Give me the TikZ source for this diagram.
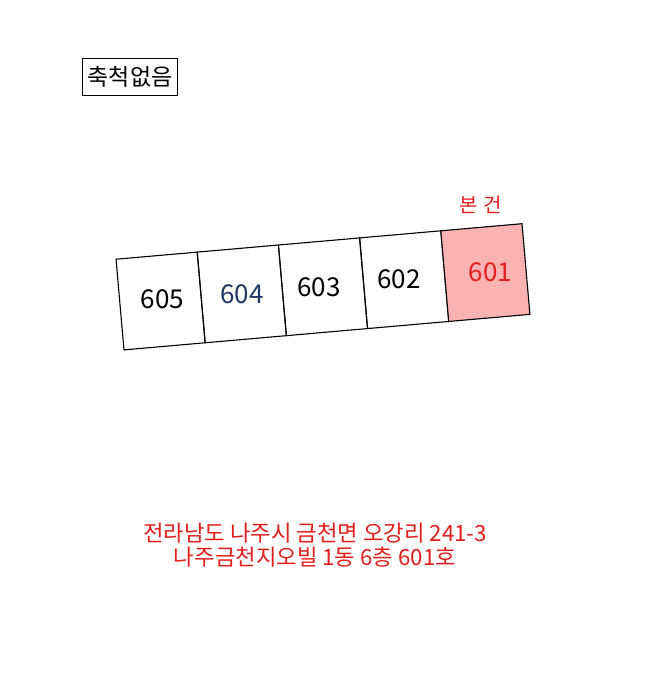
\documentclass[tikz,border=0pt]{standalone}
\usepackage{fontspec}
\setmainfont{Noto Sans CJK KR}
\usetikzlibrary{positioning}
\definecolor{objred}{RGB}{226,30,30}
\definecolor{objfill}{RGB}{250,178,178}
\definecolor{unitblue}{RGB}{31,56,100}
\tikzset{%
    % style for one unit of the floor plan,
    % the whole row is turned a little
    unit/.style={%
        draw=black,
        line width=1.1pt,
        shape=rectangle,
        minimum width=81.5pt,
        minimum height=91pt,
        inner sep=0pt,
        outer sep=0pt,
        rotate=5,
    },
    % style for the unit in question
    subject unit/.style={%
        unit, fill=objfill,
    },
    % style for the unit numbers
    unit number/.style={%
        font=\fontsize{26}{30}\selectfont,
        inner sep=0pt,
    },
    % style for the red captions
    caption/.style={%
        text=objred,
        font=\fontsize{22.3}{24.5}\selectfont,
        align=center,
        inner sep=0pt,
    },
    % style for the scale box
    scale box/.style={%
        draw=black,
        line width=0.9pt,
        minimum width=95pt,
        minimum height=37.5pt,
        font=\fontsize{23}{26}\selectfont,
    },
}

\begin{document}
\begin{tikzpicture}[x=1pt,y=-1pt]
    % the picture is set in pixels, y runs down
    \path [use as bounding box, fill=white] (0,0) rectangle (660,700);
    % scale note
    \node (S) [scale box] at (130,77) {축척없음};
    % draw the row of units, each one hung on the last
    \node (U605) [unit] at (160.6,301) {};
    \node (U604) [unit, anchor=west] at (U605.east) {};
    \node (U603) [unit, anchor=west] at (U604.east) {};
    \node (U602) [unit, anchor=west] at (U603.east) {};
    \node (U601) [subject unit, anchor=west] at (U602.east) {};
    %% numbers
    \node (N605) [unit number, xshift=2pt, yshift=2pt] at (U605) {605};
    \node (N604) [unit number, text=unitblue] at (U604) {604};
    \node (N603) [unit number, xshift=-4pt] at (U603) {603};
    \node (N602) [unit number, xshift=-5pt] at (U602) {602};
    \node (N601) [unit number, text=objred, xshift=5pt] at (U601) {601};
    %% description
    \node (T) [caption, font=\fontsize{20}{24}\selectfont] at (480.5,205)
          {본\hspace{6pt}건};
    % address
    \node (A) [caption] at (315,545)
          {전라남도 나주시 금천면 오강리 241-3\\나주금천지오빌 1동 6층 601호};
\end{tikzpicture}
\end{document}
